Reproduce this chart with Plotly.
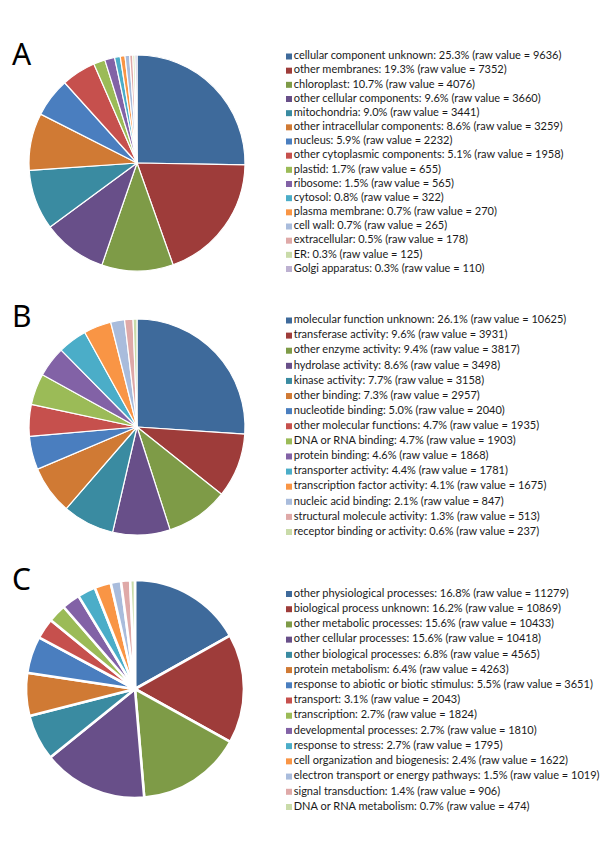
import plotly.graph_objects as go

W, H = 600, 851

# ---------------- data ----------------
a_labels = ["cellular component unknown", "other membranes", "chloroplast", "other cellular components",
            "mitochondria", "other intracellular components", "nucleus", "other cytoplasmic components",
            "plastid", "ribosome", "cytosol", "plasma membrane", "cell wall", "extracellular", "ER",
            "Golgi apparatus"]
a_pct = ["25.3", "19.3", "10.7", "9.6", "9.0", "8.6", "5.9", "5.1", "1.7", "1.5", "0.8", "0.7", "0.7",
         "0.5", "0.3", "0.3"]
a_values = [9636, 7352, 4076, 3660, 3441, 3259, 2232, 1958, 655, 565, 322, 270, 265, 178, 125, 110]

b_labels = ["molecular function unknown", "transferase activity", "other enzyme activity",
            "hydrolase activity", "kinase activity", "other binding", "nucleotide binding",
            "other molecular functions", "DNA or RNA binding", "protein binding", "transporter activity",
            "transcription factor activity", "nucleic acid binding", "structural molecule activity",
            "receptor binding or activity"]
b_pct = ["26.1", "9.6", "9.4", "8.6", "7.7", "7.3", "5.0", "4.7", "4.7", "4.6", "4.4", "4.1", "2.1",
         "1.3", "0.6"]
b_values = [10625, 3931, 3817, 3498, 3158, 2957, 2040, 1935, 1903, 1868, 1781, 1675, 847, 513, 237]

c_labels = ["other physiological processes", "biological process unknown", "other metabolic processes",
            "other cellular processes", "other biological processes", "protein metabolism",
            "response to abiotic or biotic stimulus", "transport", "transcription",
            "developmental processes", "response to stress", "cell organization and biogenesis",
            "electron transport or energy pathways", "signal transduction", "DNA or RNA metabolism"]
c_pct = ["16.8", "16.2", "15.6", "15.6", "6.8", "6.4", "5.5", "3.1", "2.7", "2.7", "2.7", "2.4", "1.5",
         "1.4", "0.7"]
c_values = [11279, 10869, 10433, 10418, 4565, 4263, 3651, 2043, 1824, 1810, 1795, 1622, 1019, 906, 474]

panel_letters = ["A", "B", "C"]

colors = ["#3E6A9B", "#9E3C3A", "#7E9B47", "#684F89", "#3A8BA1", "#D07A34",
          "#4A7EBF", "#C6504D", "#9BBB57", "#8262A6", "#4BADC8", "#F99545",
          "#A9BCDC", "#DFA9A8", "#C9DBA9", "#BDB1D1"]

FONT = "Lato"
LETTER_FONT = "Noto Sans"


def px_x(p):
    return p / W


def px_y(p):
    return 1 - p / H


fig = go.Figure()

# pies: (center x, center y, radius) in pixels
pies = [
    (a_labels, a_values, (137, 163, 108), 1.2),
    (b_labels, b_values, (137, 427, 108), 1.2),
    (c_labels, c_values, (135, 689, 109), 2.6),
]
for labels, values, (cx, cy, r), lw in pies:
    fig.add_trace(go.Pie(
        labels=labels, values=values, sort=False, direction="clockwise", rotation=0,
        textinfo="none", showlegend=False,
        marker=dict(colors=colors[:len(values)], line=dict(color="white", width=lw)),
        domain=dict(x=[px_x(cx - r), px_x(cx + r)], y=[px_y(cy + r), px_y(cy - r)]),
    ))

# legends: (labels, pct, values, first row px, last row px)
legends = [
    (a_labels, a_pct, a_values, 56.5, 269),
    (b_labels, b_pct, b_values, 320.5, 532),
    (c_labels, c_pct, c_values, 594, 807),
]
for i, (labels, pct, values, top, bot) in enumerate(legends, start=1):
    n = len(labels)
    texts = [f"{l}: {p}% (raw value = {v})" for l, p, v in zip(labels, pct, values)]
    fig.add_trace(go.Scatter(
        x=[0] * n, y=list(range(n)), mode="markers+text", text=texts,
        textposition="middle right", cliponaxis=False, showlegend=False, hoverinfo="text",
        marker=dict(symbol="square", size=6, color=colors[:n]),
        textfont=dict(family=FONT, size=11, color="#1a1a1a"),
        xaxis=f"x{i}", yaxis=f"y{i}",
    ))
    fig.layout[f"xaxis{i}"] = dict(domain=[px_x(289), 1], range=[0, 1], visible=False, fixedrange=True)
    fig.layout[f"yaxis{i}"] = dict(domain=[px_y(bot), px_y(top)], range=[n - 1, 0], visible=False,
                                   fixedrange=True)

# panel letters
for letter, ymid in zip(panel_letters, [53, 316, 578]):
    fig.add_annotation(text=letter, x=px_x(10), y=px_y(ymid), xref="paper", yref="paper",
                       xanchor="left", yanchor="middle", showarrow=False,
                       font=dict(family=LETTER_FONT, size=30, color="black"))

fig.update_layout(
    width=W, height=H, margin=dict(l=0, r=0, t=0, b=0),
    paper_bgcolor="white", plot_bgcolor="white", showlegend=False,
)

fig.write_html("out.html", config={"displayModeBar": False},
               post_script="document.body.style.margin='0';")
